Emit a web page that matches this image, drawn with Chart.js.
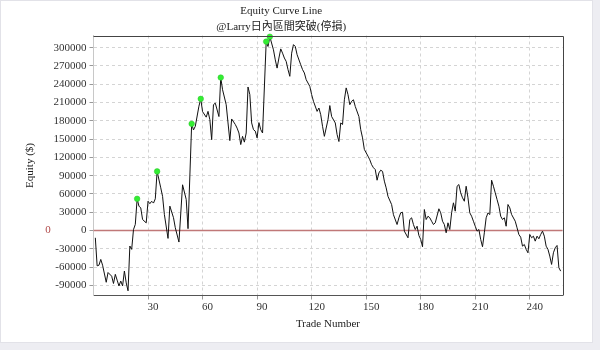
<!DOCTYPE html>
<html>
<head>
<meta charset="utf-8">
<script src="https://cdn.jsdelivr.net/npm/chart.js@4/dist/chart.umd.min.js"></script>
<style>
html,body{margin:0;padding:0;background:#ededf2;}
#wrap{width:600px;height:350px;position:relative;}
canvas{display:block;}
</style>
</head>
<body>
<div id="wrap"><canvas id="c" width="600" height="350"></canvas></div>
<script>
// ---- data ----
const tradeNumbers = [1,2,3,4,5,7,8,10,11,12,13,14,15,16,17,18,19,20,21,22,23,24,25,26,27,29,30,31,32,33,34,35,37,38,39,41,42,44,45,47,49,51,52,54,55,56,58,59,60,62,63,64,65,66,67,69,70,71,73,74,75,76,78,79,80,81,82,83,84,85,86,87,88,89,90,91,92,93,95,96,97,99,100,101,102,103,104,105,106,107,108,109,110,111,112,114,115,116,117,119,120,121,123,124,125,126,127,129,130,131,133,134,135,136,137,138,139,140,141,142,143,144,146,147,148,149,151,152,153,154,155,156,157,158,159,160,161,162,164,165,167,168,169,170,171,173,174,175,176,177,178,179,180,181,182,183,184,185,186,187,188,190,191,192,193,194,195,196,197,198,199,200,201,202,203,204,205,206,207,208,209,210,211,212,213,214,215,216,217,218,219,220,221,222,223,224,225,226,227,228,229,230,232,233,234,235,236,237,238,239,240,241,242,243,244,245,246,247,248,249,250,251,252,253,254,255,256,257];
const equityValues = [-12000,-58000,-57000,-47500,-57000,-85000,-69000,-75000,-87000,-72000,-81500,-91000,-83000,-91000,-66500,-86000,-99000,-25500,-31000,1500,10000,52000,40000,37000,18000,12500,48000,44000,48000,45000,52000,97000,70000,56000,26000,-13000,40000,21000,4500,-19000,75000,51000,3000,175000,165000,171000,204000,216000,195000,186000,195500,182000,149000,206500,209000,187000,251000,231000,206500,176500,147500,183000,174000,168000,160000,141000,154500,145000,160000,235500,223000,176500,165500,163000,152000,177000,165500,160000,310000,302000,318000,296500,280000,266500,283000,298000,291000,283000,277500,264000,253000,291000,305000,302000,288500,272000,264000,258500,247500,236500,223000,212000,195500,201000,190000,171000,154500,182000,205000,187000,176500,157500,146000,176500,174000,214500,234000,223000,206500,212000,214500,203500,187000,165500,152000,133000,122000,116000,108000,103000,100000,82500,94500,99000,97000,81000,70000,56000,42500,26000,9800,20800,29000,30000,-1100,-12000,18000,20800,9800,1600,7000,-8200,-14700,-26700,34400,18000,23400,20800,15200,9800,12600,35600,29000,15200,9800,-3800,12600,1600,29000,45400,31700,72600,75400,61800,53600,48000,72600,53600,29000,23400,15200,7000,-1100,1600,-14700,-26700,-3800,20800,29000,26200,82500,72600,61800,50800,39800,23400,18000,20800,7000,42600,37200,26200,15200,4400,-6600,-11000,-25700,-23000,-31000,-36600,-6600,-12000,-9300,-17500,-9300,-13600,-6600,-1100,-9300,-25700,-31000,-42000,-55700,-36600,-28400,-24600,-61000,-66700];
const highTrades = [24,35,54,59,70,95,97];
const highValues = [52000,97000,175000,216000,251000,310000,318000];
const xTickValues = [30,60,90,120,150,180,210,240];
const yTickValues = [-90000,-60000,-30000,0,30000,60000,90000,120000,150000,180000,210000,240000,270000,300000];
const zeroLevel = 0;
const chartTitle = 'Equity Curve Line';
const chartSubtitle = '@Larry日內區間突破(停損)';
const xTitle = 'Trade Number';
const yTitle = 'Equity ($)';

const SERIF = "'Liberation Serif','Noto Sans CJK TC',serif";

const panelPlugin = {
  id: 'panel',
  beforeDraw(chart) {
    const ctx = chart.ctx;
    ctx.save();
    ctx.fillStyle = '#ededf2';
    ctx.fillRect(0, 0, 600, 350);
    ctx.fillStyle = '#ffffff';
    ctx.fillRect(0, 0, 593, 343);
    ctx.strokeStyle = '#e2e2e8';
    ctx.lineWidth = 1;
    ctx.strokeRect(0.5, 0.5, 592, 342);
    ctx.restore();
  }
};

const zeroPlugin = {
  id: 'zeroMarker',
  beforeDatasetsDraw(chart) {
    const ctx = chart.ctx;
    const a = chart.chartArea;
    const y = Math.round(chart.scales.y.getPixelForValue(zeroLevel)) + 0.5;
    ctx.save();
    ctx.strokeStyle = '#c07878';
    ctx.lineWidth = 1.5;
    ctx.beginPath();
    ctx.moveTo(a.left, y);
    ctx.lineTo(a.right, y);
    ctx.stroke();
    ctx.fillStyle = '#b04848';
    ctx.font = "11px " + SERIF;
    ctx.textAlign = 'center';
    ctx.textBaseline = 'middle';
    ctx.fillText(String(zeroLevel), 48, y);
    ctx.restore();
  },
  afterDraw(chart) {
    const ctx = chart.ctx;
    const a = chart.chartArea;
    ctx.save();
    ctx.strokeStyle = '#444444';
    ctx.lineWidth = 1;
    ctx.beginPath();
    ctx.moveTo(a.left, Math.round(a.top) + 0.5);
    ctx.lineTo(Math.round(a.right) + 0.5, Math.round(a.top) + 0.5);
    ctx.lineTo(Math.round(a.right) + 0.5, a.bottom);
    ctx.stroke();
    ctx.restore();
  }
};

new Chart(document.getElementById('c'), {
  type: 'line',
  data: {
    datasets: [
      {
        label: 'New high',
        data: highTrades.map((t, i) => ({x: t, y: highValues[i]})),
        showLine: false,
        pointRadius: 2.8,
        pointBackgroundColor: '#33ee33',
        pointBorderColor: '#2cc42c',
        pointBorderWidth: 0.5,
        order: 0,
        clip: false
      },
      {
        label: 'Equity',
        data: tradeNumbers.map((t, i) => ({x: t, y: equityValues[i]})),
        borderColor: '#111111',
        borderWidth: 1,
        pointRadius: 0,
        tension: 0,
        fill: false,
        order: 1
      }
    ]
  },
  options: {
    responsive: false,
    animation: false,
    devicePixelRatio: 1,
    layout: {padding: {left: 0, right: 37.5, top: 0, bottom: 0}},
    plugins: {
      legend: {display: false},
      tooltip: {enabled: false},
      title: {
        display: true, text: chartTitle, color: '#222',
        font: {family: SERIF, size: 11, weight: 'normal'},
        padding: {top: 5, bottom: 2}
      },
      subtitle: {
        display: true, text: chartSubtitle, color: '#222',
        font: {family: SERIF, size: 11, weight: 'normal'},
        padding: {top: 0.5, bottom: 1.6}
      }
    },
    scales: {
      x: {
        type: 'linear', position: 'bottom', min: 0, max: 258,
        afterBuildTicks: s => { s.ticks = xTickValues.map(v => ({value: v})); },
        afterFit: s => { s.height = 54.5; },
        ticks: {color: '#333', font: {family: SERIF, size: 11}, padding: 1, maxRotation: 0, labelOffset: 5,
                callback: v => String(v)},
        grid: {color: '#d4d4d4', lineWidth: 1, drawTicks: true, tickLength: 4, tickColor: '#999'},
        border: {display: true, color: '#555', width: 1, dash: [3, 3]},
        title: {display: true, text: xTitle, color: '#222', font: {family: SERIF, size: 11}, padding: {top: 0, bottom: 19}}
      },
      y: {
        type: 'linear', position: 'left', min: -106700, max: 320000,
        afterBuildTicks: s => { s.ticks = yTickValues.map(v => ({value: v})); },
        afterFit: s => { s.width = 93.5; },
        ticks: {color: '#333', font: {family: SERIF, size: 11}, padding: 3, callback: v => String(v)},
        grid: {color: '#d4d4d4', lineWidth: 1, drawTicks: true, tickLength: 4, tickColor: '#999'},
        border: {display: true, color: '#c8c8c8', width: 1, dash: [3, 3]},
        title: {display: true, text: yTitle, color: '#222', font: {family: SERIF, size: 11}, padding: {top: 24, bottom: 0}}
      }
    }
  },
  plugins: [panelPlugin, zeroPlugin]
});
</script>
</body>
</html>
